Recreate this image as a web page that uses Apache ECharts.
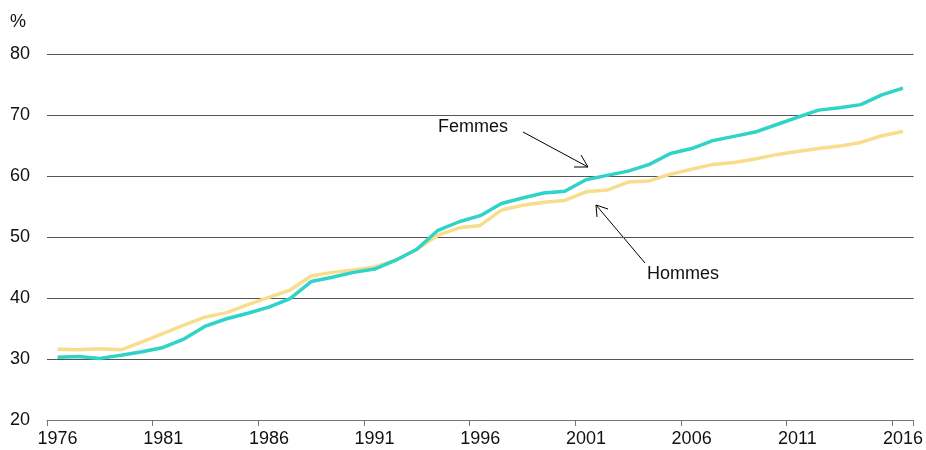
<!DOCTYPE html>
<html>
<head>
<meta charset="utf-8">
<script src="https://cdn.jsdelivr.net/npm/echarts@6/dist/echarts.min.js"></script>
<style>
html,body{margin:0;padding:0;background:#fff;}
#chart{width:926px;height:450px;}
</style>
</head>
<body>
<div id="chart"></div>
<script>
const years = [];
for (let y = 1976; y <= 2016; y++) years.push(String(y));

const femmes = [30.3,30.4,30.1,30.6,31.2,31.9,33.3,35.4,36.6,37.5,38.5,39.9,42.7,43.4,44.2,44.75,46.2,48.0,51.1,52.5,53.5,55.5,56.4,57.2,57.5,59.4,60.1,60.8,61.9,63.7,64.5,65.8,66.5,67.2,68.4,69.6,70.8,71.2,71.7,73.3,74.4];
const hommes = [31.6,31.5,31.7,31.5,32.8,34.2,35.6,36.9,37.6,38.9,40.1,41.3,43.6,44.2,44.6,45.1,46.2,48.0,50.3,51.5,51.9,54.4,55.2,55.7,56.0,57.4,57.7,59.0,59.2,60.3,61.1,61.9,62.2,62.8,63.5,64.0,64.5,64.9,65.5,66.6,67.3];

const yTicks = { min: 20, max: 80, interval: 10 };
const seriesNames = ['Femmes', 'Hommes'];

const FONT = '"Liberation Sans", Arial, sans-serif';
const FS = 18;
const chart = echarts.init(document.getElementById('chart'), null, { renderer: 'canvas' });

function arrow(x1, y1, x2, y2, h1, h2) {
  return [
    { type: 'line', shape: { x1: x1, y1: y1, x2: x2, y2: y2 }, style: { stroke: '#000', lineWidth: 1 } },
    { type: 'polyline', shape: { points: [h1, [x2, y2], h2] }, style: { stroke: '#000', lineWidth: 1, fill: null } }
  ];
}

chart.setOption({
  animation: false,
  backgroundColor: '#fff',
  grid: { left: 47, right: 12, top: 54, bottom: 30, containLabel: false },
  xAxis: {
    type: 'category',
    data: years,
    boundaryGap: true,
    axisLine: { lineStyle: { color: '#777', width: 1 } },
    axisTick: { show: true, length: 6, interval: 4, lineStyle: { color: '#777' } },
    axisLabel: { interval: 4, color: '#111', fontSize: FS, fontFamily: FONT, margin: 10 },
    splitLine: { show: false }
  },
  yAxis: {
    type: 'value',
    min: yTicks.min, max: yTicks.max, interval: yTicks.interval,
    axisLine: { show: false },
    axisTick: { show: false },
    axisLabel: { color: '#111', fontSize: FS, fontFamily: FONT, margin: 17 },
    splitLine: { lineStyle: { color: '#555', width: 1.2 } }
  },
  series: [
    {
      name: seriesNames[1], type: 'line', data: hommes, showSymbol: false, symbol: 'none',
      lineStyle: { color: '#F8DE8C', width: 3.5 }, z: 2
    },
    {
      name: seriesNames[0], type: 'line', data: femmes, showSymbol: false, symbol: 'none',
      lineStyle: { color: '#2FD3C7', width: 3.5 }, z: 3
    }
  ],
  graphic: [
    { type: 'text', x: 10, y: 13, style: { text: '%', fontSize: FS, fontFamily: FONT, fill: '#111' } },
    { type: 'text', x: 438, y: 118, style: { text: seriesNames[0], fontSize: FS, fontFamily: FONT, fill: '#111' } },
    { type: 'text', x: 647, y: 265, style: { text: seriesNames[1], fontSize: FS, fontFamily: FONT, fill: '#111' } },
    ...arrow(523, 132, 588, 167, [574, 167], [581, 155]),
    ...arrow(645, 263, 596, 205, [608, 209], [597, 217])
  ]
});
</script>
</body>
</html>
